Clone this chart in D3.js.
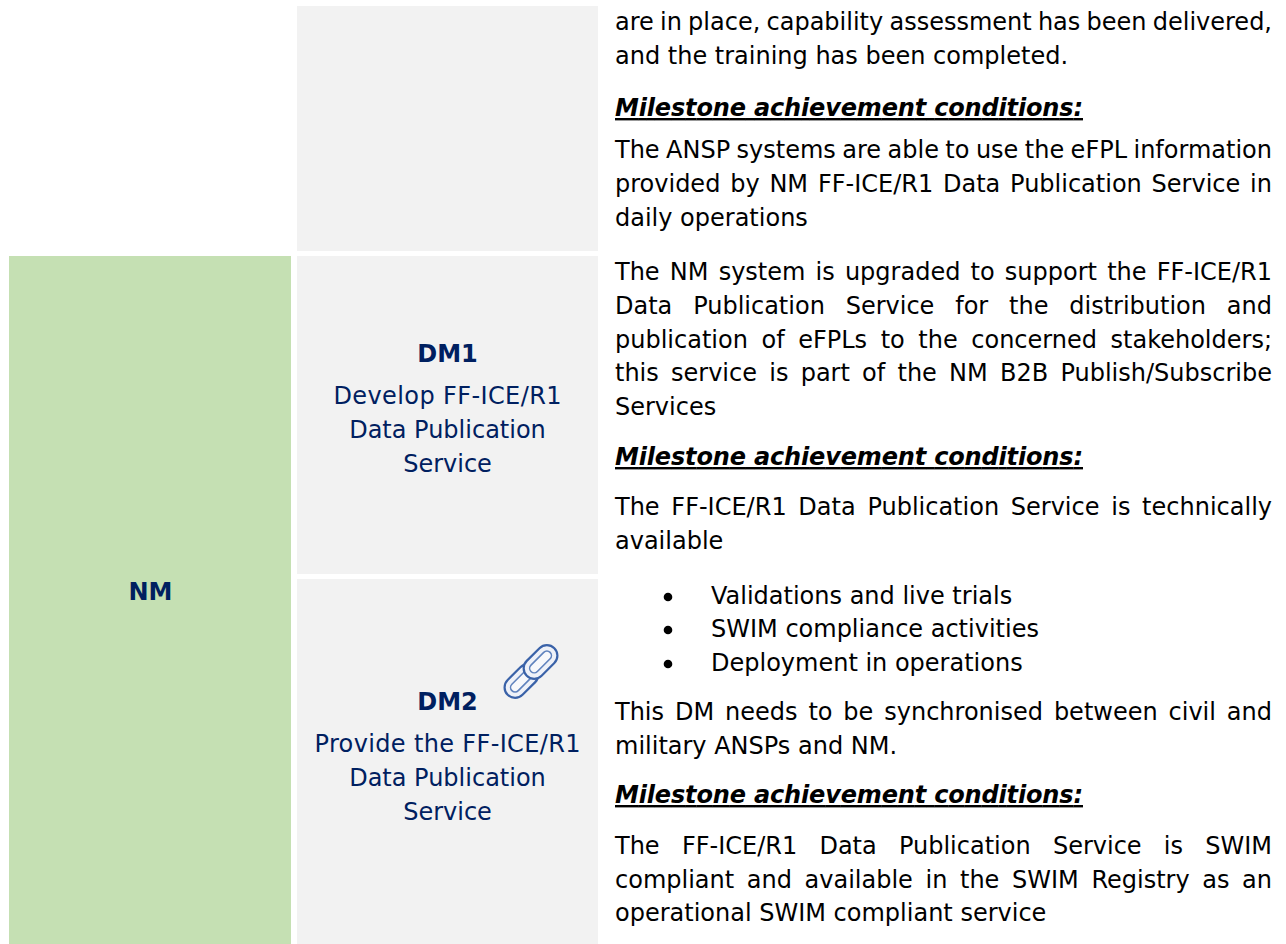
<!DOCTYPE html>
<html>
<head>
<meta charset="utf-8">
<script src="https://cdn.jsdelivr.net/npm/d3@7"></script>
<style>
  html, body { margin: 0; padding: 0; background: #fff; }
  svg { display: block; }
  text { font-family: "DejaVu Sans", Verdana, sans-serif; }
</style>
</head>
<body>
<div id="chart"></div>
<script>
// table content
var stakeholder = "NM";
var milestoneCodes = ["", "DM1", "DM2"];
var milestoneTitles = [
  [],
  ["Develop FF-ICE/R1", "Data Publication", "Service"],
  ["Provide the FF-ICE/R1", "Data Publication", "Service"]
];
var heading = "Milestone achievement conditions:";
// j = justified line, h = heading, b = bullet, l = plain last line
var descLines = [
  ["j", "are in place, capability assessment has been delivered,"],
  ["l", "and the training has been completed."],
  ["h", heading],
  ["j", "The ANSP systems are able to use the eFPL information"],
  ["j", "provided by NM FF-ICE/R1 Data Publication Service in"],
  ["l", "daily operations"],
  ["j", "The NM system is upgraded to support the FF-ICE/R1"],
  ["j", "Data Publication Service for the distribution and"],
  ["j", "publication of eFPLs to the concerned stakeholders;"],
  ["j", "this service is part of the NM B2B Publish/Subscribe"],
  ["l", "Services"],
  ["h", heading],
  ["j", "The FF-ICE/R1 Data Publication Service is technically"],
  ["l", "available"],
  ["b", "Validations and live trials"],
  ["b", "SWIM compliance activities"],
  ["b", "Deployment in operations"],
  ["j", "This DM needs to be synchronised between civil and"],
  ["l", "military ANSPs and NM."],
  ["h", heading],
  ["j", "The FF-ICE/R1 Data Publication Service is SWIM"],
  ["j", "compliant and available in the SWIM Registry as an"],
  ["l", "operational SWIM compliant service"]
];

// layout
var width = 1286, height = 944;
var navy = "#002060";
var fontSize = 24;
var textLeft = 615, textRight = 1272;
var headingWidth = 468;
var bulletX = 668, bulletTextX = 711;
var lineBaselines = [30, 64, 116, 158, 192, 226, 280, 314, 348, 381, 415, 465, 515, 549, 604, 637, 671, 720, 754, 803, 854, 888, 921];
var midCol = {x: 297, w: 301};
var midEdges = [[6, 251], [256, 574], [579, 944]];
var titleTop = [0, 362, 710];
// the capitals run wider in the original face, these lines are stretched to fit
var titleFit = {"Develop FF-ICE/R1": 228, "Provide the FF-ICE/R1": 266};

var svg = d3.select("#chart").append("svg")
  .attr("width", width)
  .attr("height", height)
  .style("background", "#fff");

// stakeholder cell
svg.append("rect")
  .attr("x", 9).attr("y", 256)
  .attr("width", 282).attr("height", height - 256)
  .attr("fill", "#c5e0b3");

svg.append("text")
  .attr("x", 150.5).attr("y", 600)
  .attr("text-anchor", "middle")
  .attr("font-size", fontSize).attr("font-weight", "bold")
  .attr("fill", navy)
  .text(stakeholder);

// milestone cells
svg.selectAll("rect.cell")
  .data(midEdges)
  .enter().append("rect")
    .attr("class", "cell")
    .attr("x", midCol.x)
    .attr("y", function(d) { return d[0]; })
    .attr("width", midCol.w)
    .attr("height", function(d) { return d[1] - d[0]; })
    .attr("fill", "#f2f2f2");

var cx = midCol.x + midCol.w / 2;
milestoneCodes.forEach(function(code, i) {
  if (!code) return;
  svg.append("text")
    .attr("x", cx).attr("y", titleTop[i])
    .attr("text-anchor", "middle")
    .attr("font-size", fontSize).attr("font-weight", "bold")
    .attr("fill", navy)
    .text(code);
  milestoneTitles[i].forEach(function(t, k) {
    var line = svg.append("text")
      .attr("x", cx).attr("y", titleTop[i] + 42 + k * 34)
      .attr("text-anchor", "middle")
      .attr("font-size", fontSize)
      .attr("fill", navy)
      .text(t);
    if (titleFit[t]) line.attr("textLength", titleFit[t]);
  });
});

// chain icon next to DM2
var chain = svg.append("g")
  .attr("transform", "translate(531,671.5) rotate(-45)")
  .attr("fill", "none");
[[-33, -10.5, 39, 21], [-6, -10.5, 39, 21]].forEach(function(r) {
  chain.append("rect")
    .attr("x", r[0]).attr("y", r[1])
    .attr("width", r[2]).attr("height", r[3])
    .attr("rx", 10.5)
    .attr("fill", "#eef1f8")
    .attr("stroke", "#3a62a8").attr("stroke-width", 2.2);
  chain.append("rect")
    .attr("x", r[0] + 6).attr("y", r[1] + 6)
    .attr("width", r[2] - 12).attr("height", r[3] - 12)
    .attr("rx", 4.5)
    .attr("fill", "#f7f8fb")
    .attr("stroke", "#5f82bd").attr("stroke-width", 1.6);
});

// description column, justified lines get their word spacing measured
var desc = svg.selectAll("text.desc")
  .data(descLines)
  .enter().append("text")
    .attr("class", "desc")
    .attr("x", function(d) { return d[0] === "b" ? bulletTextX : textLeft; })
    .attr("y", function(d, i) { return lineBaselines[i]; })
    .attr("font-size", fontSize)
    .attr("fill", "#000")
    .attr("font-weight", function(d) { return d[0] === "h" ? "bold" : "normal"; })
    .attr("font-style", function(d) { return d[0] === "h" ? "italic" : "normal"; })
    .attr("text-decoration", function(d) { return d[0] === "h" ? "underline" : "none"; })
    .text(function(d) { return d[1]; });

desc.filter(function(d) { return d[0] === "h"; })
  .attr("textLength", headingWidth);

desc.filter(function(d) { return d[0] === "j"; })
  .each(function(d) {
    var gaps = d[1].split(" ").length - 1;
    var extra = (textRight - textLeft - this.getComputedTextLength()) / gaps;
    d3.select(this).style("word-spacing", extra + "px");
  });

svg.selectAll("circle.bullet")
  .data(descLines.map(function(d, i) { return [d[0], i]; }).filter(function(d) { return d[0] === "b"; }))
  .enter().append("circle")
    .attr("class", "bullet")
    .attr("cx", bulletX)
    .attr("cy", function(d) { return lineBaselines[d[1]] - 7; })
    .attr("r", 4.3)
    .attr("fill", "#000");
</script>
</body>
</html>
